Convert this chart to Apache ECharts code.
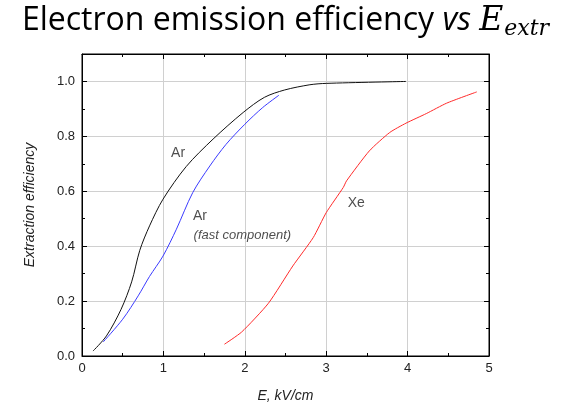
<!DOCTYPE html>
<html><head><meta charset="utf-8">
<script src="https://cdn.jsdelivr.net/npm/echarts@6/dist/echarts.min.js"></script>
<style>html,body{margin:0;padding:0;background:#fff}#c{width:571px;height:408px}</style>
</head><body><div id="c"></div>
<script>
const arData = [[0.135,0.018],[0.30,0.073],[0.48,0.17],[0.61,0.27],[0.71,0.385],[0.83,0.474],[0.995,0.571],[1.28,0.69],[1.61,0.79],[1.98,0.887],[2.24,0.942],[2.49,0.969],[2.80,0.988],[3.0,0.993],[3.98,1.0]];
const arFastData = [[0.26,0.051],[0.50,0.134],[0.69,0.219],[0.83,0.29],[0.995,0.364],[1.16,0.462],[1.36,0.595],[1.57,0.692],[1.77,0.771],[2.0,0.844],[2.22,0.905],[2.42,0.95]];
const xeData = [[1.75,0.043],[1.96,0.087],[2.29,0.192],[2.59,0.328],[2.84,0.431],[3.0,0.522],[3.21,0.614],[3.25,0.638],[3.53,0.747],[3.78,0.814],[3.98,0.848],[4.23,0.883],[4.48,0.921],[4.85,0.962]];
const curveLabels = [
  {value:[1.18,0.74], text:'Ar', italic:false},
  {value:[1.45,0.51], text:'Ar', italic:false},
  {value:[1.97,0.44], text:'(fast component)', italic:true},
  {value:[3.37,0.556], text:'Xe', italic:false}
];
const xTicks = [0,1,2,3,4,5];
const yTicks = [0.0,0.2,0.4,0.6,0.8,1.0];

const chart = echarts.init(document.getElementById('c'));
const axisCol = '#000';
const font = 'Liberation Sans, Arial, sans-serif';
function xAx(extra){return Object.assign({type:'value', min:0, max:5, interval:1,
  axisLine:{show:true,onZero:false,lineStyle:{color:axisCol,width:1}},
  axisTick:{show:true,inside:true,length:5,lineStyle:{color:axisCol,width:1}},
  minorTick:{show:true,splitNumber:2,length:3,lineStyle:{color:axisCol,width:1}}}, extra);}
function yAx(extra){return Object.assign({type:'value', min:0, max:1.1, interval:0.2,
  axisLine:{show:true,onZero:false,lineStyle:{color:axisCol,width:1}},
  axisTick:{show:true,inside:true,length:5,lineStyle:{color:axisCol,width:1}},
  minorTick:{show:true,splitNumber:2,length:3,lineStyle:{color:axisCol,width:1}}}, extra);}
chart.setOption({
  animation:false,
  title:{text:'{a|Electron emission efficiency }{b|vs }{c|E}{d|extr}', left:'center', top:-3,
    textStyle:{fontWeight:'normal', rich:{
      a:{fontFamily:'Open Sans, sans-serif', fontSize:32, fontWeight:'normal', color:'#000'},
      b:{fontFamily:'Open Sans, sans-serif', fontSize:32, fontStyle:'italic', fontWeight:'normal', color:'#000'},
      c:{fontFamily:'DejaVu Serif, serif', fontSize:33, fontStyle:'italic', fontWeight:'normal', color:'#000'},
      d:{fontFamily:'DejaVu Serif, serif', fontSize:22, fontStyle:'italic', fontWeight:'normal', color:'#000', padding:[16,0,0,1]}
    }}},
  grid:{left:82, right:82, top:54, bottom:51, show:true, borderColor:'#000', borderWidth:1, backgroundColor:'transparent'},
  xAxis:[
    xAx({position:'bottom', name:'E, kV/cm', nameLocation:'middle', nameGap:33,
      nameTextStyle:{fontFamily:font, fontSize:14, fontStyle:'italic', color:'#222'},
      axisLabel:{fontFamily:font, fontSize:13, color:'#222', margin:6, formatter:v=>xTicks.includes(v)?String(v):''},
      splitLine:{show:true, lineStyle:{color:'#d0d0d0', width:1}}}),
    xAx({position:'top', axisLabel:{show:false}, splitLine:{show:false}})
  ],
  yAxis:[
    yAx({position:'left', name:'Extraction efficiency', nameLocation:'middle', nameGap:45,
      nameTextStyle:{fontFamily:font, fontSize:14, fontStyle:'italic', color:'#222'},
      axisLabel:{fontFamily:font, fontSize:13, color:'#222', margin:7, showMaxLabel:false,
        formatter:v=>{const t=yTicks.find(k=>Math.abs(k-v)<1e-6);return t===undefined?'':t.toFixed(1);}},
      splitLine:{show:true, lineStyle:{color:'#d0d0d0', width:1}}}),
    yAx({position:'right', axisLabel:{show:false}, splitLine:{show:false}})
  ],
  series:[
    {type:'line', data:arData, showSymbol:false, smooth:0.3, lineStyle:{color:'#111', width:1}},
    {type:'line', data:arFastData, showSymbol:false, smooth:0.3, lineStyle:{color:'#3a3aff', width:1}},
    {type:'line', data:xeData, showSymbol:false, smooth:0.2, lineStyle:{color:'#ff2a2a', width:1}},
    {type:'scatter', symbolSize:0, silent:true,
      data:curveLabels.map(l=>({value:l.value, label:{show:true, position:'inside', formatter:l.text,
        fontFamily:font, fontSize:l.italic?13:14, fontStyle:l.italic?'italic':'normal', color:'#222'}}))}
  ]
});
</script></body></html>
